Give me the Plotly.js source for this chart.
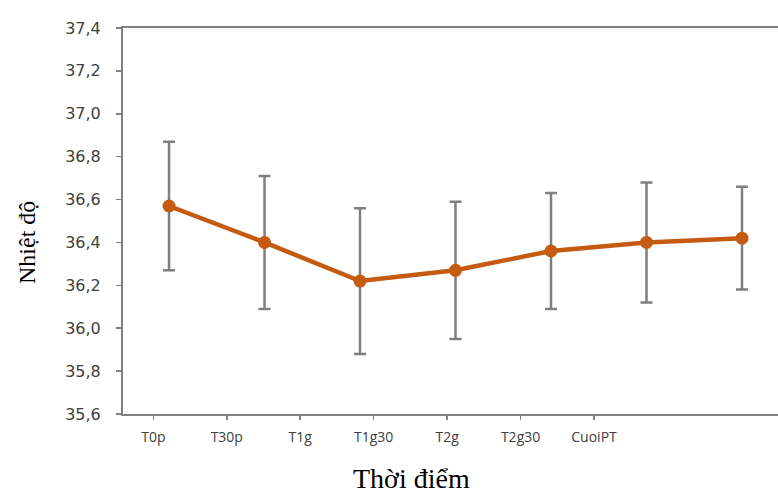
<!DOCTYPE html>
<html>
<head>
<meta charset="utf-8">
<script src="https://cdn.plot.ly/plotly-3.0.1.min.js"></script>
<style>html,body{margin:0;padding:0;background:#fff;}#chart{width:778px;height:495px;}</style>
</head>
<body>
<div id="chart"></div>
<script>
const categories = ["T0p", "T30p", "T1g", "T1g30", "T2g", "T2g30", "CuoiPT"];
const meanTemp = [36.57, 36.40, 36.22, 36.27, 36.36, 36.40, 36.42];
const sdTemp = [0.30, 0.31, 0.34, 0.32, 0.27, 0.28, 0.24];
const yTickVals = [35.6, 35.8, 36.0, 36.2, 36.4, 36.6, 36.8, 37.0, 37.2, 37.4];
const xTitle = "Thời điểm";
const yTitle = "Nhiệt độ";

const orange = "#C55A11";
const gray = "#7F7F7F";

const traces = [
  {
    x: categories, y: meanTemp, type: "scatter", mode: "lines+markers",
    xaxis: "x", yaxis: "y",
    line: {color: orange, width: 4.5},
    marker: {color: orange, size: 13},
    error_y: {type: "data", array: sdTemp, visible: true, color: gray, thickness: 2.5, width: 6},
    hoverinfo: "x+y", showlegend: false
  },
  {
    x: categories, y: meanTemp, type: "scatter", mode: "markers",
    xaxis: "x2", yaxis: "y",
    marker: {opacity: 0, size: 1}, hoverinfo: "skip", showlegend: false
  }
];

const layout = {
  width: 778, height: 495,
  margin: {l: 123, r: 0, t: 28, b: 81},
  paper_bgcolor: "#fff", plot_bgcolor: "#fff",
  separators: ", ",
  showlegend: false,
  xaxis: {
    type: "category", categoryarray: categories, range: [-0.482, 6.377],
    showticklabels: false, ticks: "", showgrid: false, zeroline: false,
    showline: true, linecolor: "#808080", linewidth: 2, mirror: true
  },
  xaxis2: {
    type: "category", categoryarray: categories, overlaying: "x", anchor: "y", side: "bottom",
    range: [-0.413, 8.505], showgrid: false, zeroline: false, showline: false,
    ticks: "outside", ticklen: 5, tickwidth: 1.5, tickcolor: "#808080",
    ticklabelstandoff: 5,
    tickfont: {family: "Open Sans, sans-serif", size: 14, color: "#404040"}
  },
  yaxis: {
    range: [35.6, 37.4], tickmode: "array", tickvals: yTickVals, tickformat: ".1f",
    showgrid: false, zeroline: false,
    showline: true, linecolor: "#808080", linewidth: 2,
    ticks: "outside", ticklen: 5, tickwidth: 1.5, tickcolor: "#808080",
    ticklabelstandoff: 12,
    tickfont: {family: "DejaVu Sans, sans-serif", size: 16, color: "#404040"}
  },
  annotations: [
    {text: xTitle, xref: "paper", yref: "paper", x: 0.44, y: -0.168,
     xanchor: "center", yanchor: "middle", showarrow: false,
     font: {family: "Liberation Serif, serif", size: 28, color: "#000"}},
    {text: yTitle, xref: "paper", yref: "paper", x: -0.1466, y: 0.4456,
     xanchor: "center", yanchor: "middle", showarrow: false, textangle: -90,
     font: {family: "Liberation Serif, serif", size: 24, color: "#000"}}
  ]
};

Plotly.newPlot("chart", traces, layout, {displayModeBar: false, staticPlot: true});
</script>
</body>
</html>
